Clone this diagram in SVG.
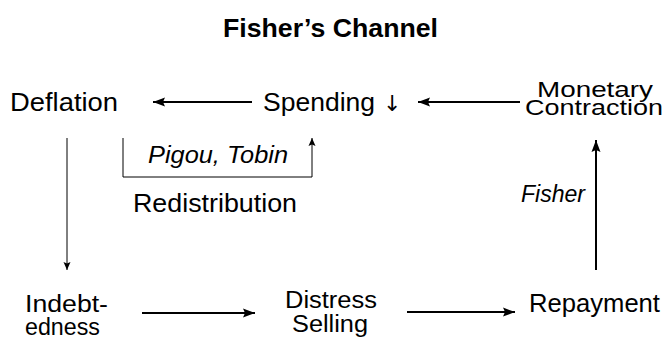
<svg xmlns="http://www.w3.org/2000/svg" width="668" height="338" viewBox="0 0 668 338">
<defs>
<style>
text{font-family:"Liberation Sans",Arial,sans-serif;font-size:25px;fill:#000}
.two{font-size:23.5px}
.mc{font-size:22px}
.arr{font-family:"DejaVu Sans",sans-serif;font-size:22px}
.it{font-style:italic;font-size:23px}
.title{font-weight:bold;font-size:26px}
.thick{stroke:#000;stroke-width:2;fill:none}
.thin{stroke:#000;stroke-width:1;fill:none}
</style>
<marker id="ah" markerUnits="userSpaceOnUse" markerWidth="14" markerHeight="12" refX="12" refY="6" orient="auto">
<path d="M0,1.5 L12,6 L0,10.5 L2,6 Z" fill="#000"/>
</marker>
<marker id="as" markerUnits="userSpaceOnUse" markerWidth="10" markerHeight="10" refX="8" refY="5" orient="auto">
<path d="M0,1.5 L8,5 L0,8.5 L1.5,5 Z" fill="#000"/>
</marker>
</defs>
<text class="title" x="223" y="37" textLength="215" lengthAdjust="spacingAndGlyphs">Fisher’s Channel</text>
<g id="deflation"><text x="10" y="111" textLength="108" lengthAdjust="spacingAndGlyphs">Deflation</text></g>
<g id="spending"><text x="263" y="111" textLength="112" lengthAdjust="spacingAndGlyphs">Spending</text><text class="arr" x="383" y="111">↓</text></g>
<g id="monetary"><text class="mc" x="537" y="97" textLength="116" lengthAdjust="spacingAndGlyphs">Monetary</text><text class="mc" x="525" y="115" textLength="138" lengthAdjust="spacingAndGlyphs">Contraction</text></g>
<g id="redistribution"><text x="133" y="212" textLength="164" lengthAdjust="spacingAndGlyphs">Redistribution</text></g>
<g id="indebtedness"><text class="two" x="25" y="312" textLength="83" lengthAdjust="spacingAndGlyphs">Indebt-</text><text class="two" x="25" y="335" textLength="75" lengthAdjust="spacingAndGlyphs">edness</text></g>
<g id="distress"><text class="two" x="285" y="308" textLength="92" lengthAdjust="spacingAndGlyphs">Distress</text><text class="two" x="292" y="332" textLength="76" lengthAdjust="spacingAndGlyphs">Selling</text></g>
<g id="repayment"><text x="529" y="312" textLength="131" lengthAdjust="spacingAndGlyphs">Repayment</text></g>
<g id="connectors">
<line class="thick" x1="252" y1="102" x2="153" y2="102" marker-end="url(#ah)"/>
<line class="thick" x1="520" y1="102" x2="418" y2="102" marker-end="url(#ah)"/>
<line class="thick" x1="596" y1="270" x2="596" y2="140" marker-end="url(#ah)"/>
<line class="thin" x1="67" y1="138" x2="67" y2="270" marker-end="url(#as)"/>
<path class="thin" d="M123,138 V177 H312 V138" marker-end="url(#as)"/>
<line class="thick" x1="142" y1="313" x2="255" y2="313" marker-end="url(#ah)"/>
<line class="thick" x1="407" y1="312" x2="515" y2="312" marker-end="url(#ah)"/>
<text class="it" x="148" y="163" textLength="140" lengthAdjust="spacingAndGlyphs">Pigou, Tobin</text>
<text class="it" x="521" y="202" textLength="64" lengthAdjust="spacingAndGlyphs">Fisher</text>
</g>
</svg>
